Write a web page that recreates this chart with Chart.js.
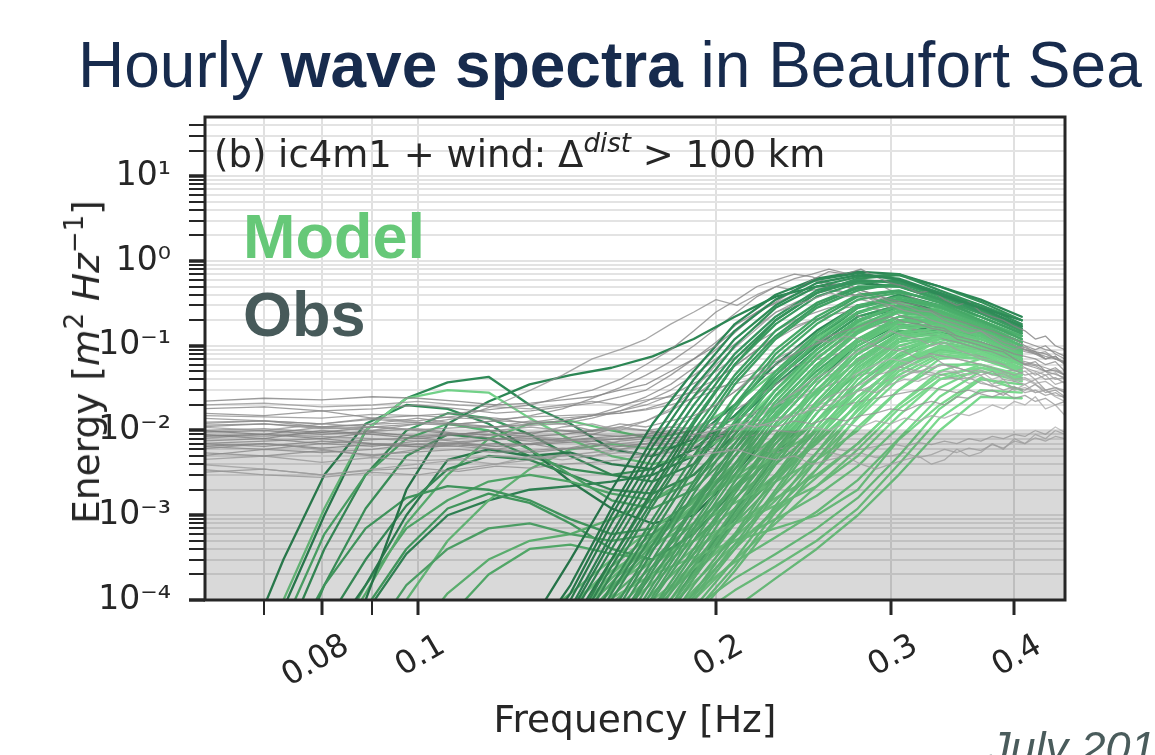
<!DOCTYPE html>
<html>
<head>
<meta charset="utf-8">
<script src="https://cdn.jsdelivr.net/npm/chart.js@4.4.1/dist/chart.umd.min.js"></script>
<style>
  html, body { margin: 0; padding: 0; background: #fff; }
  #wrap { position: relative; width: 1155px; height: 755px; overflow: hidden; }
  #myChart { position: absolute; left: 0; top: 0; }
  .txt { position: absolute; white-space: nowrap; line-height: 1; }
  #titulo { left: 78px; top: 28px; font: 64px "Liberation Sans", Arial, sans-serif; color: #172b4d; }
  #panel { left: 214px; top: 133px; font: 37px "DejaVu Sans", sans-serif; color: #262626; }
  #panel sup { font-size: 26px; vertical-align: 15px; line-height: 0; }
  #model { left: 243px; top: 200px; font: bold 63px "Liberation Sans", Arial, sans-serif; color: #66c878; }
  #obs { left: 243px; top: 278px; font: bold 63px "Liberation Sans", Arial, sans-serif; color: #475a5a; }
  #ylabel { left: 86px; top: 362px; transform: translate(-50%, -50%) rotate(-90deg); font: 37.5px "DejaVu Sans", sans-serif; color: #262626; }
  #ylabel sup { font-size: 26px; vertical-align: 16px; line-height: 0; }
  #fecha { left: 988px; top: 722px; font: italic 45px "Liberation Sans", Arial, sans-serif; color: #4a5c5c; }
</style>
</head>
<body>
<div id="wrap">
  <canvas id="myChart" width="1155" height="755"></canvas>
  <div id="titulo" class="txt">Hourly <b>wave spectra</b> in Beaufort Sea</div>
  <div id="panel" class="txt">(b) ic4m1 + wind: Δ<sup><i>dist</i></sup> &gt; 100 km</div>
  <div id="model" class="txt">Model</div>
  <div id="obs" class="txt">Obs</div>
  <div id="ylabel" class="txt">Energy [<i>m</i><sup>2</sup> <i>Hz</i><sup>−1</sup>]</div>
  <div id="fecha" class="txt">July 201</div>
</div>
<script>
// frecuencias de las boyas (obs) y del modelo
const obsFreq = [0.06, 0.07, 0.08, 0.09, 0.10, 0.11, 0.12, 0.13, 0.14, 0.15, 0.16, 0.17,
                 0.18, 0.19, 0.20, 0.21, 0.22, 0.23, 0.24, 0.25, 0.26, 0.27, 0.28, 0.29,
                 0.30, 0.31, 0.32, 0.33, 0.34, 0.35, 0.36, 0.37, 0.38, 0.39, 0.40, 0.41, 0.42, 0.43, 0.44, 0.45];
const modelFreq = [0.0550, 0.0605, 0.0665, 0.0732, 0.0805, 0.0886, 0.0974, 0.1072, 0.1179, 0.1297, 0.1426,
                   0.1569, 0.1726, 0.1899, 0.2089, 0.2297, 0.2527, 0.2780, 0.3058, 0.3363, 0.3700, 0.4070];

// espectros observados [m2/Hz]
const obs01 = [0.022,0.024,0.023,0.025,0.024,0.022,0.02,0.021,0.023,0.025,0.03,0.035, 0.05,0.07,0.1,0.16,0.25,0.35,0.45,0.6,0.75,0.7,0.8,0.65, 0.55,0.5,0.42,0.45,0.35,0.3,0.33,0.25,0.22,0.2,0.17,0.15,0.12,0.13,0.1,0.09];
const obs02 = [0.009,0.008,0.010,0.009,0.008,0.009,0.010,0.009,0.011,0.012,0.010,0.013, 0.018,0.03,0.06,0.1,0.16,0.25,0.3,0.35,0.42,0.38,0.4,0.33, 0.3,0.26,0.24,0.2,0.18,0.16,0.14,0.15,0.12,0.1,0.09,0.1,0.08,0.07,0.075,0.06];
const obs03 = [0.012,0.013,0.011,0.012,0.014,0.012,0.011,0.013,0.012,0.010,0.012,0.011, 0.013,0.015,0.02,0.03,0.045,0.06,0.08,0.1,0.13,0.15,0.17,0.2, 0.22,0.19,0.18,0.16,0.15,0.12,0.11,0.1,0.09,0.085,0.07,0.06,0.065,0.05,0.055,0.045];
const obs04 = [0.006,0.007,0.006,0.005,0.006,0.007,0.006,0.007,0.008,0.007,0.006,0.007, 0.008,0.009,0.01,0.012,0.011,0.013,0.015,0.018,0.02,0.025,0.03,0.028, 0.035,0.04,0.038,0.045,0.05,0.048,0.04,0.045,0.035,0.04,0.03,0.035,0.028,0.03,0.025,0.022];
const obs05 = [0.004,0.0035,0.003,0.0035,0.004,0.0045,0.004,0.005,0.0045,0.005,0.006,0.005, 0.006,0.005,0.0055,0.006,0.005,0.0045,0.005,0.004,0.0045,0.005,0.004,0.0035, 0.004,0.0045,0.005,0.004,0.0045,0.006,0.005,0.0055,0.007,0.006,0.008,0.007,0.009,0.008,0.01,0.009];
const obs06 = [0.016,0.015,0.017,0.014,0.015,0.016,0.018,0.02,0.025,0.03,0.04,0.06, 0.09,0.15,0.25,0.35,0.5,0.6,0.7,0.65,0.55,0.5,0.45,0.4, 0.35,0.32,0.3,0.26,0.22,0.2,0.18,0.16,0.15,0.13,0.12,0.1,0.09,0.1,0.08,0.07];
const obs07 = [0.01,0.009,0.011,0.01,0.012,0.014,0.02,0.03,0.045,0.07,0.09,0.12, 0.18,0.25,0.35,0.3,0.4,0.5,0.45,0.6,0.55,0.5,0.42,0.38, 0.33,0.3,0.26,0.25,0.2,0.18,0.16,0.15,0.13,0.11,0.1,0.09,0.08,0.085,0.07,0.065];
const obs08 = [0.007,0.0075,0.008,0.007,0.0065,0.007,0.008,0.0075,0.008,0.009,0.0085,0.009, 0.011,0.014,0.02,0.03,0.05,0.07,0.09,0.12,0.11,0.13,0.12,0.1, 0.09,0.085,0.07,0.075,0.06,0.055,0.05,0.045,0.05,0.04,0.038,0.035,0.04,0.03,0.032,0.028];
const obs09 = [0.011,0.01,0.012,0.011,0.01,0.009,0.01,0.011,0.01,0.009,0.011,0.01, 0.009,0.01,0.011,0.01,0.012,0.011,0.013,0.012,0.014,0.013,0.015,0.016, 0.018,0.017,0.02,0.022,0.02,0.025,0.024,0.028,0.03,0.026,0.032,0.03,0.035,0.028,0.03,0.025];
const obs10 = [0.005,0.006,0.0055,0.006,0.007,0.0065,0.006,0.0055,0.006,0.007,0.0065,0.007, 0.007,0.008,0.009,0.011,0.014,0.02,0.028,0.04,0.05,0.07,0.09,0.11, 0.15,0.13,0.12,0.1,0.11,0.09,0.08,0.07,0.065,0.06,0.05,0.055,0.045,0.05,0.04,0.042];
const obs11 = [0.014,0.013,0.012,0.014,0.013,0.015,0.014,0.012,0.013,0.015,0.016,0.018, 0.022,0.03,0.04,0.06,0.09,0.12,0.16,0.2,0.22,0.28,0.3,0.27, 0.25,0.22,0.2,0.17,0.16,0.13,0.12,0.11,0.1,0.09,0.08,0.075,0.07,0.06,0.065,0.05];
const obs12 = [0.008,0.009,0.0085,0.008,0.0075,0.008,0.009,0.0085,0.0075,0.008,0.007,0.0075, 0.008,0.0085,0.009,0.008,0.009,0.01,0.0095,0.011,0.01,0.012,0.011,0.013, 0.012,0.014,0.013,0.015,0.014,0.016,0.015,0.017,0.02,0.018,0.022,0.02,0.025,0.018,0.02,0.015];
const obs13 = [0.018,0.019,0.017,0.018,0.02,0.018,0.016,0.017,0.019,0.021,0.025,0.03, 0.045,0.07,0.11,0.18,0.25,0.32,0.4,0.45,0.5,0.42,0.38,0.36, 0.3,0.28,0.24,0.22,0.2,0.17,0.15,0.14,0.12,0.11,0.1,0.09,0.085,0.07,0.075,0.06];
const obs14 = [0.0065,0.006,0.007,0.0065,0.0075,0.007,0.0065,0.007,0.006,0.0065,0.0075,0.008, 0.008,0.009,0.008,0.01,0.011,0.013,0.016,0.02,0.025,0.03,0.035,0.045, 0.05,0.06,0.07,0.08,0.075,0.07,0.065,0.06,0.055,0.05,0.045,0.05,0.04,0.045,0.035,0.038];
const obs15 = [0.0035,0.003,0.0028,0.0032,0.003,0.0035,0.004,0.0045,0.005,0.0055,0.006,0.0065, 0.007,0.008,0.01,0.012,0.015,0.02,0.025,0.03,0.035,0.04,0.05,0.06, 0.07,0.065,0.06,0.055,0.06,0.05,0.045,0.05,0.04,0.045,0.038,0.04,0.035,0.03,0.032,0.028];
const obs16 = [0.0085,0.009,0.008,0.0095,0.0085,0.009,0.008,0.0085,0.009,0.01,0.011,0.013, 0.017,0.025,0.04,0.06,0.09,0.13,0.17,0.2,0.23,0.25,0.22,0.2, 0.19,0.17,0.15,0.14,0.12,0.11,0.1,0.09,0.085,0.075,0.07,0.065,0.06,0.055,0.05,0.045];
const obs17 = [0.011,0.012,0.0105,0.011,0.012,0.0115,0.011,0.012,0.013,0.015,0.019,0.025, 0.035,0.055,0.09,0.15,0.24,0.33,0.45,0.6,0.5,0.55,0.45,0.4, 0.34,0.3,0.27,0.23,0.21,0.18,0.16,0.15,0.13,0.12,0.1,0.095,0.085,0.08,0.07,0.065];
const obs18 = [0.007,0.0065,0.0075,0.007,0.0068,0.0072,0.0065,0.007,0.0075,0.008,0.0078,0.0085, 0.009,0.01,0.012,0.014,0.017,0.022,0.028,0.035,0.045,0.055,0.07,0.08, 0.095,0.1,0.12,0.11,0.1,0.09,0.085,0.075,0.07,0.06,0.065,0.055,0.05,0.045,0.048,0.04];
const obs19 = [0.0095,0.01,0.009,0.0098,0.0105,0.0092,0.0088,0.0095,0.01,0.0098,0.0105,0.01, 0.011,0.0105,0.012,0.0115,0.013,0.014,0.015,0.017,0.018,0.02,0.022,0.024, 0.026,0.028,0.03,0.032,0.03,0.028,0.03,0.027,0.025,0.028,0.024,0.026,0.022,0.024,0.02,0.022];
const obs20 = [0.0125,0.013,0.012,0.0135,0.0125,0.012,0.013,0.0125,0.014,0.015,0.017,0.02, 0.026,0.036,0.05,0.075,0.11,0.15,0.2,0.24,0.28,0.3,0.35,0.32, 0.28,0.26,0.23,0.2,0.18,0.16,0.14,0.13,0.12,0.1,0.095,0.085,0.08,0.07,0.075,0.06];
const obs21 = [0.0055,0.005,0.0058,0.0052,0.0056,0.006,0.0055,0.0058,0.0062,0.006,0.0065,0.007, 0.0075,0.008,0.009,0.01,0.012,0.014,0.016,0.019,0.022,0.026,0.03,0.035, 0.04,0.045,0.05,0.055,0.06,0.055,0.05,0.052,0.045,0.048,0.04,0.042,0.036,0.038,0.032,0.03];
const obs22 = [0.015,0.0145,0.014,0.0155,0.015,0.014,0.0135,0.0145,0.015,0.0155,0.016,0.0175, 0.02,0.024,0.03,0.04,0.05,0.065,0.08,0.1,0.12,0.14,0.15,0.17, 0.18,0.16,0.15,0.13,0.12,0.11,0.1,0.09,0.08,0.075,0.07,0.062,0.058,0.05,0.052,0.045];
const obs23 = [0.0075,0.008,0.007,0.0078,0.0082,0.0074,0.0078,0.008,0.0076,0.0082,0.0086,0.009, 0.01,0.011,0.012,0.014,0.016,0.02,0.024,0.028,0.034,0.04,0.045,0.05, 0.058,0.055,0.05,0.048,0.045,0.04,0.042,0.036,0.034,0.03,0.033,0.028,0.03,0.026,0.028,0.024];
const obs24 = [0.0045,0.005,0.0042,0.0048,0.0044,0.0046,0.005,0.0047,0.0052,0.005,0.0055,0.0052, 0.0056,0.006,0.0055,0.0058,0.0062,0.006,0.0065,0.006,0.0062,0.0058,0.006,0.0065, 0.007,0.0065,0.0072,0.0068,0.0075,0.007,0.008,0.0075,0.0085,0.008,0.009,0.0085,0.01,0.009,0.011,0.0095];
const obs25 = [0.01,0.0105,0.0095,0.011,0.0102,0.0108,0.011,0.0115,0.012,0.014,0.017,0.022, 0.03,0.045,0.07,0.11,0.17,0.25,0.32,0.4,0.45,0.42,0.38,0.35, 0.3,0.27,0.24,0.21,0.19,0.17,0.15,0.14,0.12,0.11,0.1,0.09,0.082,0.075,0.07,0.062];
const obs26 = [0.02,0.021,0.019,0.02,0.022,0.02,0.019,0.018,0.02,0.022,0.02,0.023, 0.025,0.028,0.032,0.036,0.042,0.05,0.058,0.066,0.075,0.085,0.09,0.1, 0.095,0.09,0.085,0.08,0.075,0.07,0.065,0.06,0.055,0.05,0.052,0.045,0.048,0.04,0.042,0.036];
const obs27 = [0.0065,0.007,0.0062,0.0068,0.0064,0.0066,0.007,0.0068,0.0072,0.0075,0.008,0.0085, 0.0095,0.011,0.014,0.018,0.025,0.035,0.05,0.07,0.09,0.12,0.15,0.2, 0.18,0.17,0.15,0.13,0.12,0.1,0.095,0.085,0.075,0.07,0.065,0.06,0.055,0.05,0.046,0.042];
const obs28 = [0.009,0.0085,0.0095,0.009,0.0088,0.0092,0.009,0.0085,0.008,0.0075,0.007,0.0068, 0.0065,0.006,0.0062,0.0058,0.006,0.0055,0.0058,0.0052,0.0055,0.005,0.0054,0.0048, 0.005,0.0055,0.0048,0.0052,0.006,0.0055,0.0062,0.0058,0.0068,0.0062,0.0075,0.007,0.0082,0.0075,0.0085,0.008];
const obs29 = [0.0115,0.012,0.011,0.0118,0.0125,0.012,0.013,0.015,0.018,0.024,0.032,0.045, 0.065,0.1,0.16,0.25,0.38,0.5,0.62,0.7,0.8,0.72,0.62,0.55, 0.45,0.4,0.35,0.3,0.27,0.23,0.2,0.18,0.16,0.14,0.13,0.11,0.1,0.09,0.085,0.075];
const obs30 = [0.0032,0.0035,0.003,0.0034,0.0036,0.0033,0.0038,0.0036,0.004,0.0042,0.0045,0.005, 0.0055,0.0065,0.008,0.01,0.013,0.017,0.022,0.028,0.034,0.04,0.046,0.05, 0.055,0.05,0.048,0.045,0.04,0.042,0.036,0.038,0.033,0.035,0.03,0.032,0.028,0.03,0.026,0.025];

// espectros del modelo: mar de viento (banda principal)
const _ = null;
const mod01 = [_,_,_,_,_,_,_,_,_, 3e-5,1.5e-4,1.2e-3,8e-3,0.04,0.15,0.35,0.6,0.72,0.6,0.4,0.28,0.2];
const mod02 = [_,_,_,_,_,_,_,_,_, 2e-5,1e-4,8e-4,5e-3,0.025,0.1,0.28,0.5,0.65,0.7,0.45,0.3,0.18];
const mod03 = [_,_,_,_,_,_,_,_,_, 1.5e-5,8e-5,6e-4,4e-3,0.02,0.08,0.22,0.45,0.6,0.55,0.4,0.25,0.16];
const mod04 = [_,_,_,_,_,_,_,_,_, 1e-5,6e-5,4e-4,2.5e-3,0.013,0.06,0.18,0.38,0.55,0.6,0.42,0.3,0.2];
const mod05 = [_,_,_,_,_,_,_,_,_, 8e-6,4e-5,3e-4,1.8e-3,0.01,0.045,0.15,0.32,0.5,0.5,0.35,0.22,0.14];
const mod06 = [_,_,_,_,_,_,_,_,_, 5e-6,3e-5,2e-4,1.3e-3,7e-3,0.035,0.12,0.28,0.45,0.55,0.38,0.26,0.17];
const mod07 = [_,_,_,_,_,_,_,_,_, 4e-6,2e-5,1.5e-4,9e-4,5e-3,0.025,0.09,0.22,0.4,0.45,0.32,0.2,0.12];
const mod08 = [_,_,_,_,_,_,_,_,_, 3e-6,1.5e-5,1e-4,6e-4,3.5e-3,0.018,0.07,0.18,0.35,0.42,0.35,0.24,0.15];
const mod09 = [_,_,_,_,_,_,_,_,_, 2e-6,1e-5,7e-5,4.5e-4,2.5e-3,0.013,0.05,0.14,0.3,0.38,0.3,0.2,0.13];
const mod10 = [_,_,_,_,_,_,_,_,_, 1e-6,8e-6,5e-5,3e-4,1.8e-3,9e-3,0.038,0.11,0.25,0.35,0.28,0.18,0.11];
const mod11 = [_,_,_,_,_,_,_,_,_, 1e-6,5e-6,4e-5,2.5e-4,1.3e-3,7e-3,0.03,0.09,0.2,0.3,0.25,0.17,0.1];
const mod12 = [_,_,_,_,_,_,_,_,_, 1e-6,4e-6,3e-5,1.8e-4,1e-3,5e-3,0.022,0.07,0.17,0.28,0.24,0.16,0.1];
const mod13 = [_,_,_,_,_,_,_,_,_, _,3e-6,2e-5,1.3e-4,7e-4,3.5e-3,0.016,0.055,0.14,0.25,0.22,0.15,0.09];
const mod14 = [_,_,_,_,_,_,_,_,_, _,2e-6,1.5e-5,1e-4,5e-4,2.5e-3,0.012,0.04,0.11,0.2,0.2,0.14,0.085];
const mod15 = [_,_,_,_,_,_,_,_,_, _,1.5e-6,1e-5,7e-5,3.5e-4,1.8e-3,8e-3,0.03,0.09,0.17,0.18,0.13,0.08];
const mod16 = [_,_,_,_,_,_,_,_,_, _,_,8e-6,5e-5,2.5e-4,1.2e-3,5.5e-3,0.022,0.07,0.14,0.16,0.12,0.075];
const mod17 = [_,_,_,_,_,_,_,_,_, _,_,6e-6,4e-5,1.8e-4,8e-4,4e-3,0.016,0.055,0.12,0.14,0.11,0.07];
const mod18 = [_,_,_,_,_,_,_,_,_, _,_,5e-6,3e-5,1.2e-4,5.5e-4,2.5e-3,0.011,0.04,0.1,0.13,0.1,0.065];
const mod19 = [_,_,_,_,_,_,_,_,_, _,_,_,2e-5,1e-4,4e-4,1.8e-3,8e-3,0.03,0.08,0.11,0.09,0.06];
const mod20 = [_,_,_,_,_,_,_,_,_, _,_,_,1.5e-5,8e-5,3e-4,1.3e-3,5.5e-3,0.022,0.065,0.1,0.085,0.055];
const mod21 = [_,_,_,_,_,_,_,_,_, _,_,_,1e-5,6e-5,2.2e-4,9e-4,3.5e-3,0.015,0.05,0.085,0.075,0.05];
const mod22 = [_,_,_,_,_,_,_,_,_, 2e-5,5e-5,1.05e-4,2e-4,3.2e-4,5e-4,7e-4,1e-3,2e-3,7.8e-3,0.02,0.042,0.03];
const mod23 = [_,_,_,_,_,_,_,_,_, 3e-5,7e-5,1.5e-4,3e-4,5e-4,8e-4,1.3e-3,2.2e-3,5e-3,0.015,0.04,0.06,0.045];
const mod24 = [_,_,_,_,_,_,_,_,_, 4e-5,9e-5,2.2e-4,4.5e-4,8e-4,1.4e-3,2.5e-3,4.5e-3,0.01,0.03,0.07,0.08,0.06];
const mod25 = [_,_,_,_,_,_,_,_,_, 5e-5,1.2e-4,3e-4,7e-4,1.4e-3,2.6e-3,5e-3,0.01,0.025,0.06,0.12,0.12,0.08];
const mod26 = [_,_,_,_,_,_,_,_,_, 2e-5,6e-5,1.8e-4,5e-4,1.2e-3,3e-3,8e-3,0.02,0.05,0.11,0.18,0.15,0.1];
const mod27 = [_,_,_,_,_,_,_,_,_, 1e-5,4e-5,1.3e-4,4e-4,1.1e-3,3.5e-3,0.011,0.03,0.08,0.18,0.25,0.2,0.13];
const mod28 = [_,_,_,_,_,_,_,_,_, 5e-5,3e-4,2e-3,0.012,0.05,0.18,0.4,0.62,0.75,0.7,0.5,0.35,0.22];
const mod29 = [_,_,_,_,_,_,_,_,_, 1e-5,5e-5,3e-4,2e-3,0.012,0.06,0.2,0.42,0.62,0.68,0.5,0.33,0.2];
const mod40 = [_,_,_,_,_,_,_,_,_, 2.5e-5,1.2e-4,1e-3,6.5e-3,0.032,0.12,0.3,0.55,0.68,0.62,0.42,0.28,0.17];
const mod41 = [_,_,_,_,_,_,_,_,_, 1.2e-5,7e-5,5e-4,3.2e-3,0.016,0.07,0.2,0.42,0.58,0.58,0.4,0.27,0.17];
const mod42 = [_,_,_,_,_,_,_,_,_, 6e-6,3.5e-5,2.5e-4,1.5e-3,8e-3,0.04,0.13,0.3,0.48,0.52,0.36,0.24,0.15];
const mod43 = [_,_,_,_,_,_,_,_,_, 3.5e-6,1.8e-5,1.2e-4,7.5e-4,4e-3,0.02,0.08,0.2,0.38,0.44,0.33,0.22,0.14];
const mod44 = [_,_,_,_,_,_,_,_,_, 1.5e-6,9e-6,6e-5,3.8e-4,2.2e-3,0.011,0.045,0.13,0.28,0.36,0.29,0.19,0.12];
const mod45 = [_,_,_,_,_,_,_,_,_, 1e-6,4.5e-6,3.5e-5,2.2e-4,1.2e-3,6e-3,0.026,0.08,0.19,0.3,0.26,0.17,0.11];
const mod46 = [_,_,_,_,_,_,_,_,_, _,3.5e-6,2.5e-5,1.5e-4,8e-4,4e-3,0.019,0.06,0.15,0.26,0.23,0.16,0.1];
const mod47 = [_,_,_,_,_,_,_,_,_, _,2.5e-6,1.8e-5,1.1e-4,6e-4,3e-3,0.014,0.045,0.12,0.22,0.21,0.15,0.09];
const mod48 = [_,_,_,_,_,_,_,_,_, _,_,1.2e-5,8e-5,4e-4,2e-3,9e-3,0.035,0.1,0.19,0.19,0.14,0.085];
const mod49 = [_,_,_,_,_,_,_,_,_, _,_,9e-6,6e-5,3e-4,1.5e-3,7e-3,0.026,0.08,0.16,0.17,0.13,0.08];
const mod50 = [_,_,_,_,_,_,_,_,_, _,_,7e-6,4.5e-5,2e-4,1e-3,4.5e-3,0.019,0.06,0.13,0.15,0.12,0.075];
const mod51 = [_,_,_,_,_,_,_,_,_, _,_,_,3e-5,1.5e-4,6e-4,3e-3,0.013,0.045,0.11,0.13,0.105,0.07];
const mod52 = [_,_,_,_,_,_,_,_,_, _,_,_,2.5e-5,1.1e-4,4.5e-4,2e-3,9e-3,0.035,0.09,0.12,0.095,0.062];
const mod53 = [_,_,_,_,_,_,_,_,_, _,_,_,1.2e-5,7e-5,2.5e-4,1.1e-3,4.5e-3,0.018,0.06,0.095,0.08,0.052];
const mod54 = [_,_,_,_,_,_,_,_,_, _,_,_,2e-5,6e-5,1.3e-4,2.5e-4,5e-4,1.2e-3,4e-3,0.014,0.03,0.028];
const mod55 = [_,_,_,_,_,_,_,_,_, _,_,_,_,3e-5,8e-5,1.8e-4,4e-4,1e-3,3e-3,0.01,0.025,0.024];
const mod56 = [_,_,_,_,_,_,_,_,_, _,_,_,3e-5,8e-5,1.8e-4,3.5e-4,7e-4,1.6e-3,5e-3,0.018,0.04,0.035];
const mod57 = [_,_,_,_,_,_,_,_,_, _,_,2e-5,5e-5,1.2e-4,2.8e-4,5.5e-4,1.1e-3,2.6e-3,8e-3,0.025,0.05,0.04];
const mod58 = [_,_,_,_,_,_,_,_,_, _,1e-5,4e-5,1e-4,2.4e-4,5e-4,9e-4,1.7e-3,3.8e-3,0.011,0.032,0.055,0.045];
const mod59 = [_,_,_,_,_,_,_,_,_, _,2e-5,6e-5,1.6e-4,4e-4,8e-4,1.6e-3,3e-3,7e-3,0.02,0.05,0.07,0.055];
const mod60 = [_,_,_,_,_,_,_,_,_, 2e-5,6e-5,2e-4,5.5e-4,1.3e-3,2.8e-3,6e-3,0.013,0.03,0.07,0.13,0.12,0.085];
const mod61 = [_,_,_,_,_,_,_,_,_, 1.5e-5,5e-5,1.6e-4,5e-4,1.5e-3,4e-3,0.011,0.028,0.065,0.14,0.2,0.17,0.11];
const mod62 = [_,_,_,_,_,_,_,_,_, 1e-5,4e-5,1.4e-4,4.5e-4,1.6e-3,5e-3,0.016,0.045,0.11,0.22,0.28,0.22,0.14];
const mod71 = [_,_,_,_,_,_,_,_,_, _,_,2e-5,7e-5,2.5e-4,8e-4,2.5e-3,8e-3,0.025,0.06,0.09,0.075,0.05];
const mod72 = [_,_,_,_,_,_,_,_,_, _,_,3e-5,9e-5,2.2e-4,5.5e-4,1.5e-3,4.5e-3,0.014,0.04,0.075,0.07,0.048];
const mod73 = [_,_,_,_,_,_,_,_,_, _,_,2.5e-5,8e-5,2.8e-4,9e-4,3e-3,0.01,0.03,0.075,0.11,0.09,0.06];
const mod74 = [_,_,_,_,_,_,_,_,_, _,_,1.5e-5,6e-5,2e-4,6e-4,1.8e-3,5.5e-3,0.017,0.045,0.08,0.07,0.05];
const mod75 = [_,_,_,_,_,_,_,_,_, _,_,_,4e-5,1.3e-4,4e-4,1.2e-3,3.5e-3,0.011,0.03,0.06,0.06,0.042];
const mod76 = [_,_,_,_,_,_,_,_,_, _,_,_,5e-5,1.6e-4,4.5e-4,1.1e-3,2.8e-3,7e-3,0.02,0.045,0.055,0.04];
const mod77 = [_,_,_,_,_,_,_,_,_, _,3e-5,9e-5,2.5e-4,6.5e-4,1.6e-3,4e-3,0.01,0.025,0.06,0.1,0.09,0.062];
const mod78 = [_,_,_,_,_,_,_,_,_, 1.5e-5,4e-5,1.1e-4,3e-4,8e-4,2e-3,5e-3,0.013,0.035,0.08,0.13,0.11,0.075];
const mod79 = [_,_,_,_,_,_,_,_,_, _,2.5e-5,7e-5,2e-4,5e-4,1.2e-3,3e-3,7.5e-3,0.02,0.05,0.09,0.085,0.06];
const mod80 = [_,_,_,_,_,_,_,_,_, _,_,4e-5,1.2e-4,3.5e-4,1e-3,2.8e-3,7e-3,0.02,0.055,0.1,0.09,0.06];
const mod81 = [_,_,_,_,_,_,_,_,_, _,_,_,3e-5,1e-4,3e-4,8e-4,2.2e-3,6e-3,0.018,0.04,0.05,0.038];
const mod82 = [_,_,_,_,_,_,_,_,_, _,_,6e-6,4e-5,2.2e-4,1.1e-3,5e-3,0.02,0.06,0.14,0.17,0.13,0.085];
const mod83 = [_,_,_,_,_,_,_,_,_, _,_,5e-6,3.5e-5,1.8e-4,9e-4,4e-3,0.016,0.05,0.12,0.15,0.12,0.08];
const mod84 = [_,_,_,_,_,_,_,_,_, _,1e-5,5e-5,2e-4,7e-4,2.2e-3,7e-3,0.02,0.05,0.12,0.16,0.13,0.09];
const mod85 = [_,_,_,_,_,_,_,_,_, 3e-5,8e-5,2.5e-4,6e-4,1.5e-3,3.5e-3,8.5e-3,0.02,0.045,0.09,0.13,0.11,0.07];
// espectros del modelo con mar de fondo (swell)
const mod30 = [1e-6,5e-6,2e-5,1e-4,1.2e-3,1e-2,0.024,0.03,0.028,0.014,7.8e-3,5e-3,4e-3,5e-3,0.01,0.03,0.08,0.18,0.25,0.2,0.14,0.09];
const mod31 = [1e-6,4e-6,1.5e-5,8e-5,1e-3,0.01,0.024,0.037,0.043,0.02,0.012,6e-3,5e-3,8e-3,0.02,0.06,0.15,0.3,0.35,0.25,0.16,0.1];
const mod32 = [_,_,_,1e-6,1e-5,1e-4,2e-3,0.012,0.022,0.035,0.045,0.055,0.075,0.12,0.22,0.38,0.5,0.55,0.5,0.35,0.25,0.16];
const mod33 = [_,_,1e-6,5e-5,6e-4,3e-3,8e-3,0.012,0.01,6e-3,3e-3,1.5e-3,1.2e-3,2e-3,6e-3,0.02,0.06,0.15,0.22,0.18,0.12,0.08];
const mod34 = [_,_,1e-6,2e-5,1.5e-4,7e-4,1.6e-3,2.2e-3,2e-3,1.5e-3,9e-4,6e-4,7e-4,1.5e-3,5e-3,0.018,0.05,0.12,0.2,0.16,0.11,0.07];
const mod35 = [_,_,_,1e-6,5e-5,3e-4,1.3e-3,3.5e-3,5e-3,4.5e-3,3e-3,2e-3,1.8e-3,3e-3,9e-3,0.03,0.09,0.2,0.3,0.24,0.15,0.1];
const mod36 = [_,_,_,1e-6,2e-5,1.2e-4,8e-4,3e-3,8e-3,0.012,0.013,0.01,8e-3,0.01,0.02,0.05,0.12,0.25,0.32,0.26,0.17,0.11];
const mod37 = [_,_,_,_,1e-6,3e-5,1.5e-4,4e-4,7e-4,8e-4,6e-4,5e-4,6e-4,1.2e-3,4e-3,0.015,0.045,0.11,0.18,0.16,0.1,0.065];
const mod38 = [_,_,_,1e-6,3e-5,1.5e-4,1e-3,4.5e-3,6e-3,5e-3,5.5e-3,4e-3,3.5e-3,6e-3,0.015,0.045,0.12,0.28,0.4,0.3,0.2,0.13];
const mod39 = [_,_,_,_,_,1e-6,3e-5,1.2e-4,3e-4,5e-4,6e-4,9e-4,1.5e-3,3e-3,8e-3,0.025,0.07,0.16,0.25,0.2,0.13,0.085];
const mod63 = [_,_,1e-6,3e-5,4e-4,3e-3,0.01,0.016,0.014,9e-3,5e-3,3e-3,2.5e-3,4e-3,0.012,0.04,0.1,0.22,0.3,0.24,0.15,0.1];
const mod64 = [_,_,_,1e-6,2e-5,1.5e-4,7e-4,1.5e-3,2.5e-3,3e-3,2.5e-3,1.8e-3,1.5e-3,2.5e-3,7e-3,0.025,0.07,0.17,0.26,0.2,0.14,0.09];
const mod65 = [_,1e-6,2e-5,3e-4,3e-3,0.012,0.02,0.018,0.012,6e-3,2.5e-3,1.2e-3,8e-4,1e-3,3e-3,0.012,0.04,0.1,0.18,0.15,0.1,0.065];
const mod66 = [_,_,_,1e-6,1e-5,8e-5,4e-4,1.2e-3,1.8e-3,1.4e-3,8e-4,4e-4,3e-4,6e-4,2e-3,8e-3,0.03,0.08,0.15,0.14,0.1,0.065];
const mod67 = [_,_,_,_,1e-6,1.5e-5,1e-4,5e-4,1.5e-3,3.5e-3,6e-3,7e-3,6e-3,7e-3,0.014,0.04,0.1,0.22,0.3,0.24,0.16,0.1];
const mod68 = [_,_,1e-6,1e-5,1.5e-4,1.2e-3,5e-3,9e-3,8e-3,5e-3,3.5e-3,3e-3,3.5e-3,6e-3,0.015,0.04,0.11,0.24,0.34,0.26,0.17,0.11];
const mod69 = [_,_,_,_,_,1e-6,1e-5,6e-5,2e-4,4e-4,4.5e-4,3.5e-4,3e-4,5e-4,1.5e-3,6e-3,0.022,0.07,0.14,0.13,0.09,0.06];
const mod70 = [_,_,_,1e-6,1e-5,7e-5,3.5e-4,1e-3,1.5e-3,2e-3,2.2e-3,2.5e-3,3e-3,5e-3,0.012,0.035,0.09,0.2,0.28,0.22,0.15,0.1];

const modelSeries = [mod01, mod40, mod02, mod28, mod41, mod03, mod04, mod29, mod42, mod05,
                     mod06, mod43, mod07, mod08, mod44, mod09, mod10, mod45, mod11, mod12,
                     mod46, mod13, mod47, mod14, mod48, mod15, mod49, mod16, mod50, mod17,
                     mod51, mod18, mod52, mod19, mod20, mod53, mod21, mod62, mod61, mod27,
                     mod26, mod60, mod25, mod24, mod59, mod23, mod58, mod57, mod22, mod56,
                     mod54, mod55, mod30, mod31, mod32, mod33, mod34, mod35, mod36, mod37,
                     mod38, mod39, mod63, mod64, mod65, mod66, mod67, mod68, mod69, mod70,
                     mod82, mod83, mod84, mod71, mod73, mod80, mod77, mod78, mod85, mod79,
                     mod74, mod72, mod75, mod76, mod81];
const obsSeries = [obs01, obs02, obs03, obs04, obs05, obs06, obs07, obs08, obs09, obs10,
                   obs11, obs12, obs13, obs14, obs15, obs16, obs17, obs18, obs19, obs20,
                   obs21, obs22, obs23, obs24, obs25, obs26, obs27, obs28, obs29, obs30];

// colores (uno por serie, en el mismo orden)
const modelColors = ['#2e8a57', '#2f8c58', '#33905a', '#2c8755', '#35935c', '#379560', '#3a9a60', '#349259', '#3c9c61', '#3e9e62',
                     '#41a164', '#43a466', '#46a867', '#48aa69', '#4aad6b', '#4caf6c', '#50b36f', '#52b570', '#54b772', '#57ba74',
                     '#59bc75', '#5bbe77', '#5dc078', '#5ec179', '#60c37a', '#62c47c', '#64c67d', '#66c77e', '#68c980', '#69ca81',
                     '#6bcc82', '#6ccd83', '#6ecf85', '#70d086', '#73d388', '#74d489', '#76d58a', '#5ec179', '#66c77e', '#6ccd83',
                     '#70d086', '#73d388', '#76d58a', '#78d78c', '#7ad88d', '#7bd98e', '#7ad88d', '#78d78c', '#7ad88d', '#76d58a',
                     '#7bd98e', '#78d78c', '#72d188', '#2e8a57', '#2c8654', '#55b873', '#4aad6b', '#3f9f63', '#66c77e', '#5ab976',
                     '#338f5b', '#6acb80', '#3c9c61', '#5dc078', '#2f8c58', '#4caf6c', '#72d188', '#43a566', '#60c37a', '#379560',
                     '#58bb75', '#5dbf78', '#63c57c', '#6ccd83', '#66c77e', '#70d086', '#69ca81', '#64c67d', '#6ecf85', '#73d388',
                     '#76d58a', '#78d78c', '#74d489', '#7ad88d', '#7bd98e'];
const obsColors = ['rgba(130,130,130,0.8)', 'rgba(150,150,150,0.8)', 'rgba(140,140,140,0.8)', 'rgba(165,165,165,0.8)', 'rgba(185,185,185,0.8)',
                   'rgba(135,135,135,0.8)', 'rgba(145,145,145,0.8)', 'rgba(155,155,155,0.8)', 'rgba(150,150,150,0.8)', 'rgba(160,160,160,0.8)',
                   'rgba(140,140,140,0.8)', 'rgba(170,170,170,0.8)', 'rgba(135,135,135,0.8)', 'rgba(160,160,160,0.8)', 'rgba(175,175,175,0.8)',
                   'rgba(145,145,145,0.8)', 'rgba(135,135,135,0.8)', 'rgba(155,155,155,0.8)', 'rgba(150,150,150,0.8)', 'rgba(140,140,140,0.8)',
                   'rgba(165,165,165,0.8)', 'rgba(145,145,145,0.8)', 'rgba(155,155,155,0.8)', 'rgba(180,180,180,0.8)', 'rgba(140,140,140,0.8)',
                   'rgba(150,150,150,0.8)', 'rgba(145,145,145,0.8)', 'rgba(185,185,185,0.8)', 'rgba(135,135,135,0.8)', 'rgba(170,170,170,0.8)'];

// ejes
const xTicks = [0.07, 0.08, 0.09, 0.1, 0.2, 0.3, 0.4];
const xLabels = ['', '0.08', '', '0.1', '0.2', '0.3', '0.4'];
const yTicks = [1e-4, 2e-4, 3e-4, 4e-4, 5e-4, 6e-4, 7e-4, 8e-4, 9e-4,
                1e-3, 2e-3, 3e-3, 4e-3, 5e-3, 6e-3, 7e-3, 8e-3, 9e-3,
                1e-2, 2e-2, 3e-2, 4e-2, 5e-2, 6e-2, 7e-2, 8e-2, 9e-2,
                1e-1, 0.2, 0.3, 0.4, 0.5, 0.6, 0.7, 0.8, 0.9,
                1, 2, 3, 4, 5, 6, 7, 8, 9, 10, 20, 30, 40];
const yMajor = [1e-4, 1e-3, 1e-2, 1e-1, 1, 10];
const yMajorLabels = ['10⁻⁴', '10⁻³', '10⁻²', '10⁻¹', '10⁰', '10¹'];
const xMin = 0.061, xMax = 0.45;
const yMin = 1e-4, yMax = 50;
const shadeTop = 1e-2;

function puntos(freqs, vals) {
    return freqs.map((f, i) => ({ x: f, y: vals[i] === undefined ? null : vals[i] }));
}

function esMayor(v) {
    return yMajor.findIndex(t => Math.abs(t - v) / t < 1e-6);
}

// se intercalan modelo y observaciones para que se mezclen al dibujar
const datasets = [];
for (let i = 0; i < modelSeries.length; i++) {
    datasets.push({
        label: 'model ' + (i + 1),
        data: puntos(modelFreq, modelSeries[i]),
        borderColor: modelColors[i],
        borderWidth: 2.3
    });
    if (i % 2 === 1 && obsSeries[(i - 1) / 2]) {
        const k = (i - 1) / 2;
        datasets.push({
            label: 'obs ' + (k + 1),
            data: puntos(obsFreq, obsSeries[k]),
            borderColor: obsColors[k],
            borderWidth: 1.3
        });
    }
}

const sombra = {
    id: 'sombra',
    afterDatasetsDraw(chart) {
        const { ctx, chartArea: a, scales } = chart;
        const yTop = scales.y.getPixelForValue(shadeTop);
        ctx.save();
        ctx.fillStyle = 'rgba(0,0,0,0.15)';
        ctx.fillRect(a.left, yTop, a.right - a.left, a.bottom - yTop);
        ctx.restore();
    },
    afterDraw(chart) {
        const { ctx, chartArea: a } = chart;
        ctx.save();
        ctx.strokeStyle = '#262626';
        ctx.lineWidth = 3;
        ctx.strokeRect(a.left, a.top, a.right - a.left, a.bottom - a.top);
        ctx.restore();
    }
};

Chart.defaults.font.family = '"DejaVu Sans", sans-serif';

const myChart = document.getElementById('myChart');
new Chart(myChart, {
    type: 'line',
    data: { datasets },
    options: {
        responsive: false,
        animation: false,
        events: [],
        layout: { padding: { left: 0, top: 117, right: 90, bottom: 0 } },
        elements: { point: { radius: 0 }, line: { tension: 0, borderCapStyle: 'round', borderJoinStyle: 'round' } },
        plugins: { legend: { display: false }, tooltip: { enabled: false } },
        scales: {
            x: {
                type: 'logarithmic',
                min: xMin,
                max: xMax,
                afterBuildTicks: s => { s.ticks = xTicks.map(v => ({ value: v })); },
                afterFit: s => { s.height = 155; s.paddingLeft = 0; s.paddingRight = 0; },
                ticks: {
                    autoSkip: false,
                    minRotation: 30,
                    maxRotation: 30,
                    color: '#262626',
                    font: { size: 32 },
                    padding: 12,
                    labelOffset: 25,
                    callback: (v) => {
                        const i = xTicks.findIndex(t => Math.abs(t - v) < 1e-9);
                        return i >= 0 ? xLabels[i] : '';
                    }
                },
                grid: {
                    color: '#e0e0e0',
                    lineWidth: 2,
                    tickColor: '#262626',
                    tickLength: 15,
                    tickWidth: (c) => (c.tick && xLabels[xTicks.indexOf(c.tick.value)] ? 3 : 2)
                },
                border: { display: false },
                title: { display: true, text: 'Frequency [Hz]', color: '#262626', font: { size: 37.5 }, padding: { top: 0, bottom: 10 } }
            },
            y: {
                type: 'logarithmic',
                min: yMin,
                max: yMax,
                afterBuildTicks: s => { s.ticks = yTicks.map(v => ({ value: v })); },
                afterFit: s => { s.width = 205; s.paddingTop = 0; s.paddingBottom = 0; },
                ticks: {
                    autoSkip: false,
                    color: '#262626',
                    font: { size: 33 },
                    padding: 18,
                    callback: (v) => {
                        const i = esMayor(v);
                        return i >= 0 ? yMajorLabels[i] : '';
                    }
                },
                grid: {
                    color: '#e3e3e3',
                    lineWidth: 2,
                    tickColor: '#262626',
                    tickLength: 16,
                    tickWidth: (c) => (c.tick && esMayor(c.tick.value) >= 0 ? 3.5 : 2)
                },
                border: { display: false }
            }
        }
    },
    plugins: [sombra]
});
</script>
</body>
</html>
